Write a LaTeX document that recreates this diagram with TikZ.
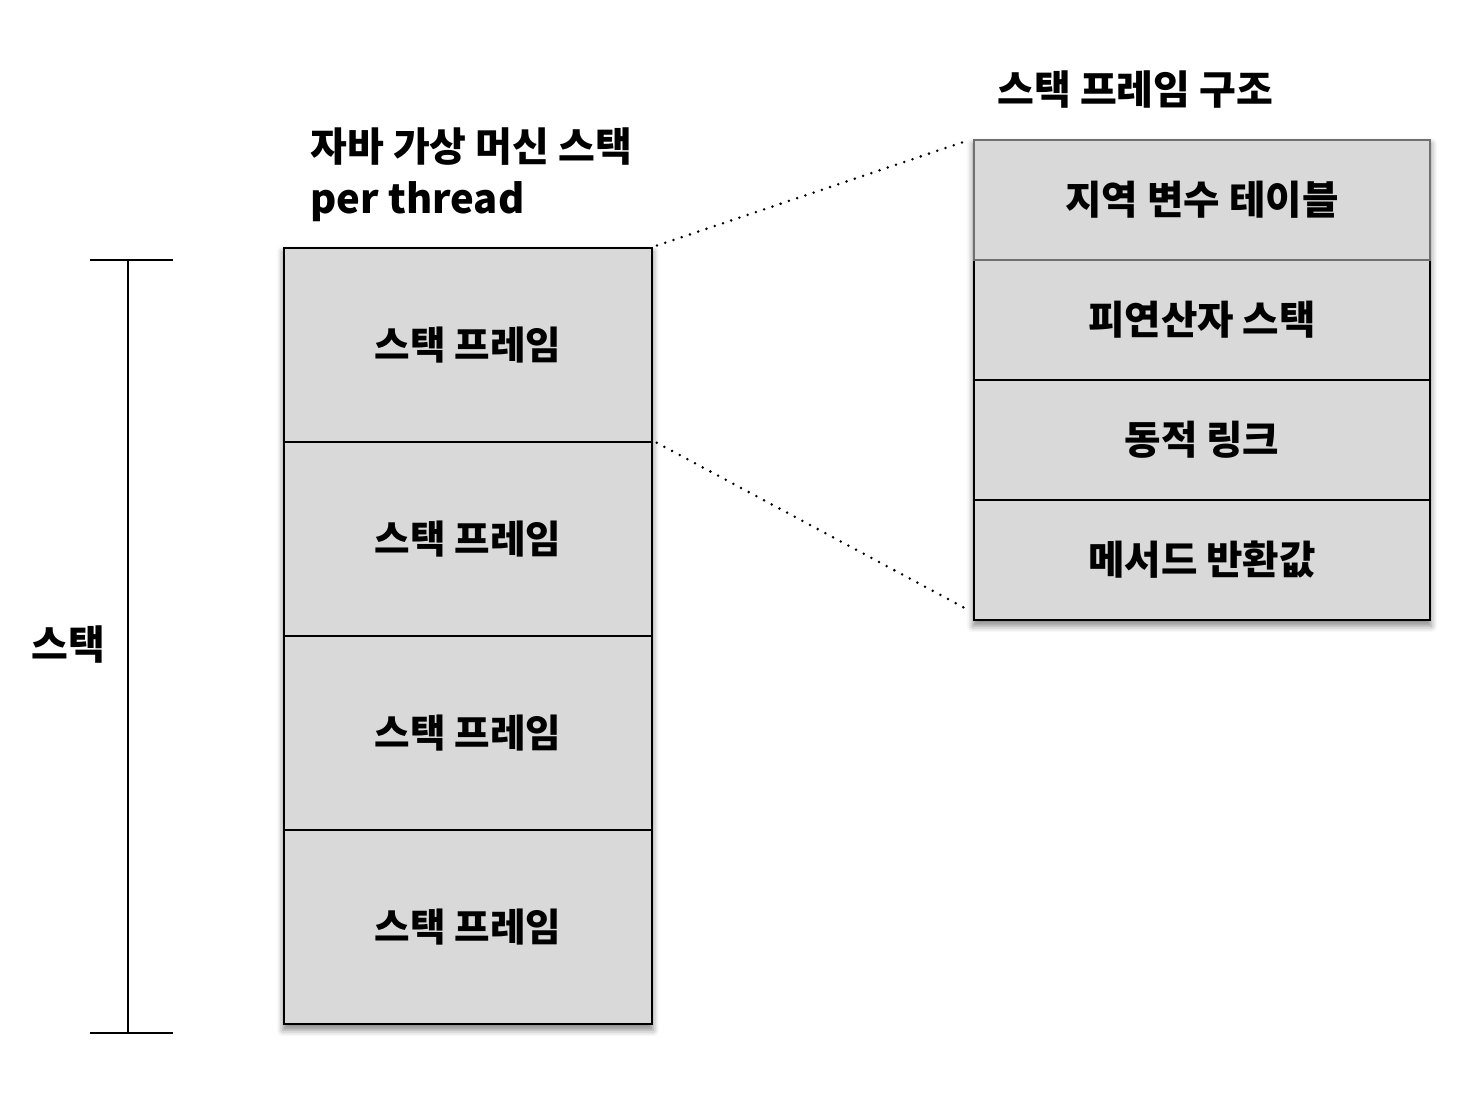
\documentclass[tikz,border=0pt]{standalone}
\usepackage{fontspec}
\setmainfont{Noto Sans CJK KR}[BoldFont={* Black}]
\usetikzlibrary{shadows.blur,backgrounds,calc}
\definecolor{boxgray}{HTML}{D9D9D9}
\definecolor{edgegray}{HTML}{707070}
\tikzset{
  lframe/.style={draw=black, line width=1.2pt, fill=boxgray, minimum width=184pt, minimum height=97pt, inner sep=0pt, font=\fontsize{19.3}{22}\selectfont\bfseries},
  rframe/.style={draw=black, line width=1.2pt, fill=boxgray, minimum width=228pt, minimum height=60pt, inner sep=0pt, font=\fontsize{19.8}{22}\selectfont\bfseries},
  title/.style={inner sep=0pt, anchor=west, font=\fontsize{20}{22}\selectfont\bfseries},
  dotline/.style={line width=1.4pt, line cap=round, dash pattern=on 0pt off 4.35pt},
  bracket/.style={line width=1pt},
  softshadow/.style={blur shadow={shadow xshift=0pt, shadow yshift=-2.5pt, shadow blur radius=3pt, shadow opacity=45}}
}
\begin{document}
\begin{tikzpicture}[x=0.5pt,y=-0.5pt]
\useasboundingbox (0,0) rectangle (1482,1098);

% left stack
\node[lframe] (lf1) at (468,345) {스택 프레임};
\node[lframe] (lf2) at (468,539) {스택 프레임};
\node[lframe] (lf3) at (468,733) {스택 프레임};
\node[lframe] (lf4) at (468,927) {스택 프레임};

% right stack
\node[rframe] (rf2) at (1202,320) {피연산자 스택};
\node[rframe] (rf3) at (1202,440) {동적 링크};
\node[rframe] (rf4) at (1202,560) {메서드 반환값};
\node[rframe, draw=edgegray] (rf1) at (1202,200) {지역 변수 테이블};

\begin{pgfonlayer}{background}
  \path[fill=boxgray, softshadow] (lf1.north west) rectangle (lf4.south east);
  \path[fill=boxgray, softshadow] (rf1.north west) rectangle (rf4.south east);
\end{pgfonlayer}

% titles
\node[title] (t1) at (310,147) {자바 가상 머신 스택};
\node[title, anchor=base west] (t2) at (310,213) {per thread};
\node[title] (t3) at (997,90) {스택 프레임 구조};

% bracket
\coordinate (btop) at (128,260);
\coordinate (bbot) at (128,1033);
\coordinate (btl) at (90,260);
\coordinate (btr) at (173,260);
\coordinate (bbl) at (90,1033);
\coordinate (bbr) at (173,1033);
\draw[bracket] (btop) -- (bbot);
\draw[bracket] (btl) -- (btr);
\draw[bracket] (bbl) -- (bbr);
\node[title, anchor=center] (slabel) at (68,645) {스택};

% dotted connectors
\draw[dotline, shorten <=2pt, shorten >=3pt] (lf1.north east) -- (rf1.north west);
\draw[dotline, shorten <=2pt] (lf2.north east) -- ($(rf4.south west)+(-4,-11)$);
\end{tikzpicture}
\end{document}
